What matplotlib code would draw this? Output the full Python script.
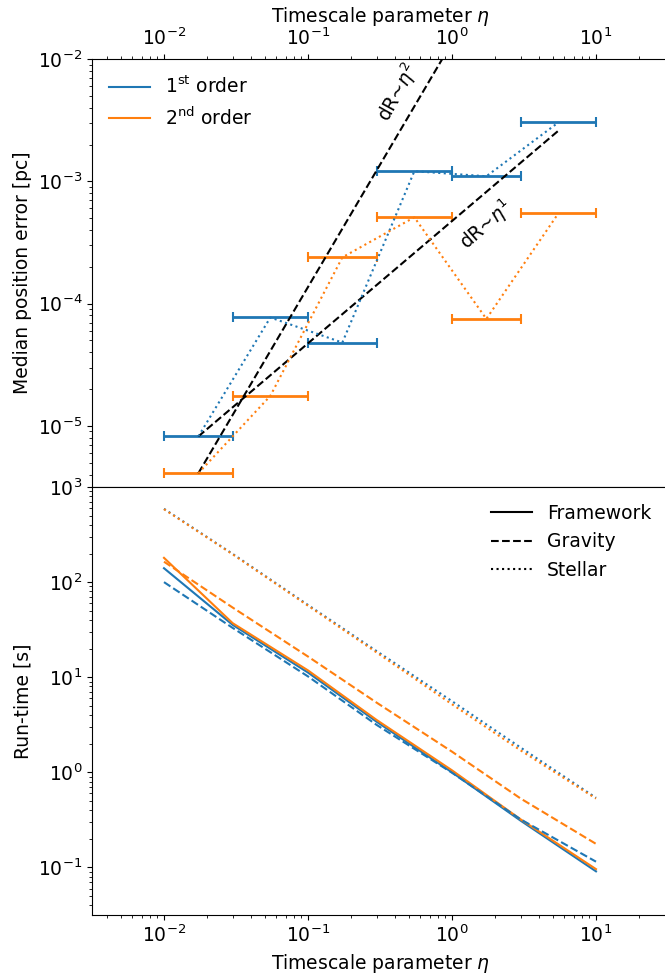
import matplotlib
matplotlib.use("Agg")
import matplotlib.pyplot as plt
import numpy
from matplotlib.lines import Line2D

plt.rcParams['font.size'] = 13.5

BLUE = "#1f77b4"
ORANGE = "#ff7f0e"

# timescale parameters of the runs
eta = [0.01, 0.03, 0.1, 0.3, 1.0, 3.0, 10.0]

# median position error between neighbouring eta runs
err_first = [8.2e-6, 7.7e-5, 4.8e-5, 1.21e-3, 1.10e-3, 3.03e-3]
err_second = [4.1e-6, 1.76e-5, 2.39e-4, 5.08e-4, 7.5e-5, 5.47e-4]

# run-times [s]
framework_first = [140, 35.5, 11.2, 3.4, 1.0, 0.31, 0.091]
framework_second = [180, 37, 11.8, 3.55, 1.05, 0.32, 0.096]
gravity_first = [100, 33, 10.2, 3.15, 0.99, 0.32, 0.115]
gravity_second = [164, 54, 16.5, 5.4, 1.65, 0.53, 0.177]
stellar_first = [590, 198, 57.5, 18.8, 5.6, 1.82, 0.54]
stellar_second = [585, 196, 56.5, 18.2, 5.2, 1.7, 0.53]

order_labels = ["1$^{\\rm st}$ order", "2$^{\\rm nd}$ order"]
style_labels = ["Framework", "Gravity", "Stellar"]

fig = plt.figure(figsize=(6.65, 9.76), dpi=100)
left = 92 / 665
width = (668 - 92) / 665
ax_top = fig.add_axes([left, 0.501, width, 0.9395 - 0.501])
ax_bot = fig.add_axes([left, 0.0625, width, 0.501 - 0.0625])

# --- top panel: position error
eta_arr = numpy.array(eta)
lo = eta_arr[:-1]
hi = eta_arr[1:]
mid = numpy.sqrt(lo * hi)
for values, color in [(err_first, BLUE), (err_second, ORANGE)]:
    ax_top.errorbar(mid, values, xerr=[mid - lo, hi - mid], fmt=':', color=color,
                    elinewidth=2, capsize=3.5, capthick=1.5)

# scaling guides
x_guide = numpy.array([mid[0], mid[-1]])
ax_top.plot(x_guide, err_first[0] * (x_guide / mid[0]), '--', color='k')
ax_top.plot(x_guide, err_second[0] * (x_guide / mid[0]) ** 2, '--', color='k')
ax_top.text(0.42, 5.3e-3, "dR~$\\eta^2$", rotation=61, ha='center', va='center')
ax_top.text(1.72, 4.4e-4, "dR~$\\eta^1$", rotation=41, ha='center', va='center')

ax_top.set_xscale('log')
ax_top.set_yscale('log')
ax_top.set_xlim(10 ** -2.5, 10 ** 1.5)
ax_top.set_ylim(10 ** -5.5, 1e-2)
ax_top.xaxis.tick_top()
ax_top.xaxis.set_label_position('top')
ax_top.set_xlabel("Timescale parameter $\\eta$")
ax_top.set_ylabel("Median position error [pc]")
handles = [Line2D([], [], color=BLUE), Line2D([], [], color=ORANGE)]
ax_top.legend(handles, order_labels, loc='upper left', frameon=False, handlelength=2.2)

# --- bottom panel: run-time
ax_bot.plot(eta, framework_first, '-', color=BLUE)
ax_bot.plot(eta, framework_second, '-', color=ORANGE)
ax_bot.plot(eta, gravity_first, '--', color=BLUE)
ax_bot.plot(eta, gravity_second, '--', color=ORANGE)
ax_bot.plot(eta, stellar_first, ':', color=BLUE)
ax_bot.plot(eta, stellar_second, ':', color=ORANGE)

ax_bot.set_xscale('log')
ax_bot.set_yscale('log')
ax_bot.set_xlim(10 ** -2.5, 10 ** 1.5)
ax_bot.set_ylim(10 ** -1.5, 1e3)
ax_bot.set_xlabel("Timescale parameter $\\eta$")
ax_bot.set_ylabel("Run-time [s]")
handles = [Line2D([], [], color='k', linestyle=s) for s in ['-', '--', ':']]
ax_bot.legend(handles, style_labels, loc='upper right', frameon=False, handlelength=2.2)

plt.savefig("out.png", dpi=100)
plt.close()
